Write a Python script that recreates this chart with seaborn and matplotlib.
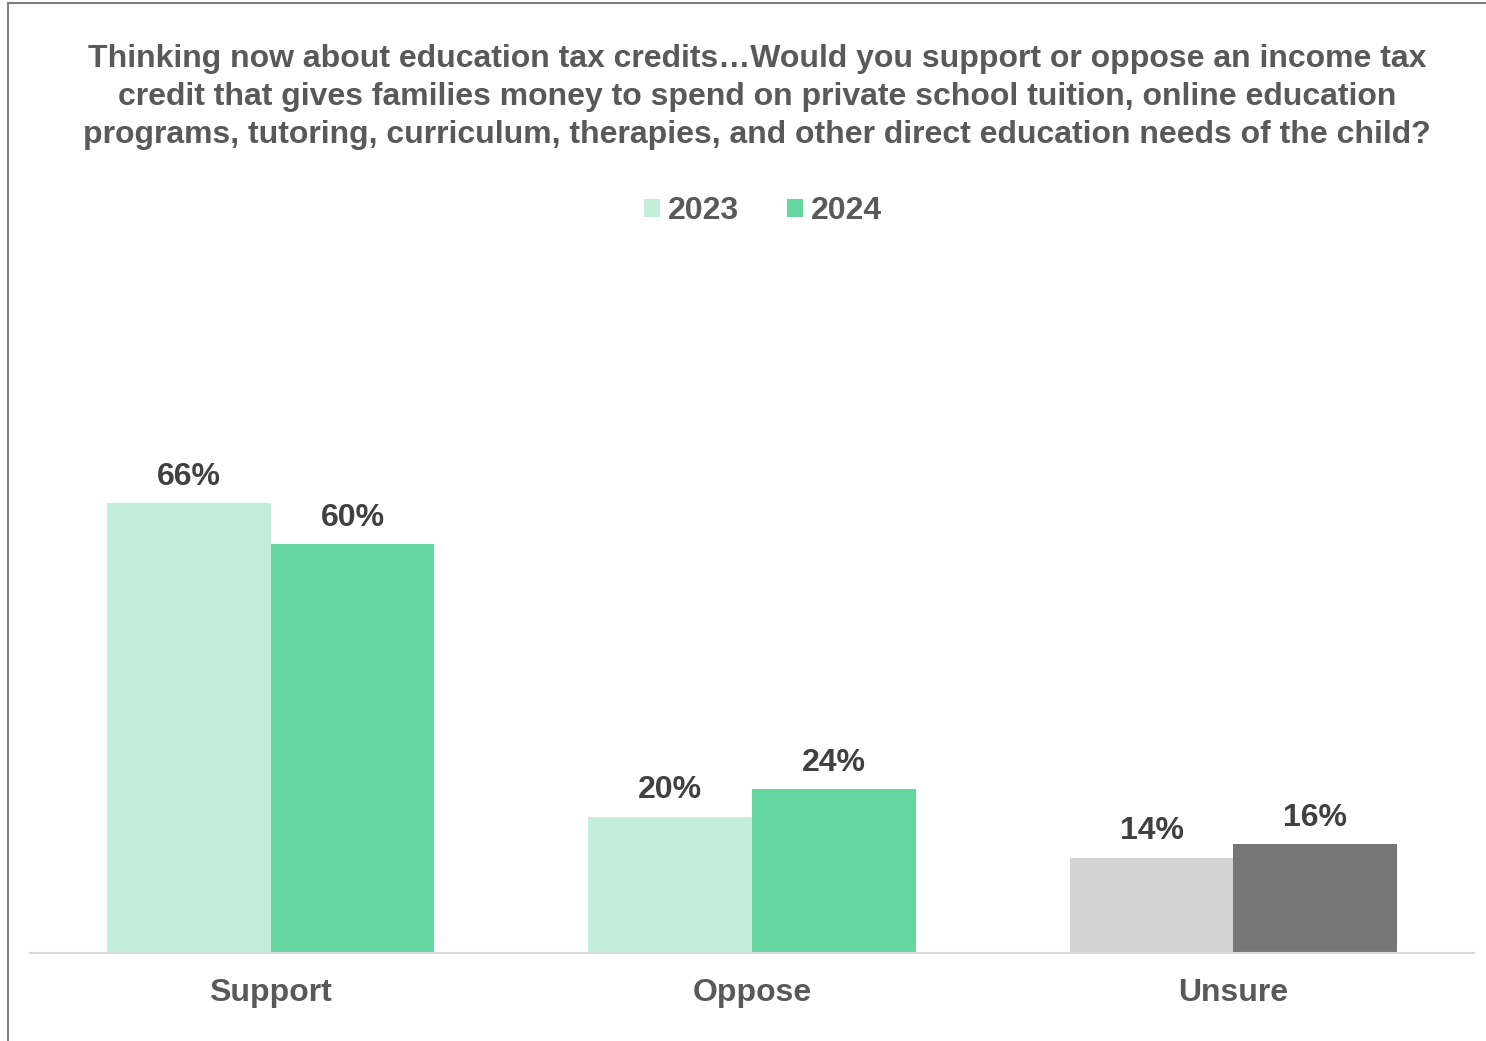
import matplotlib.pyplot as plt
import seaborn as sns
import pandas as pd
from matplotlib.lines import Line2D
from matplotlib.patches import Patch

# data
responses = ["Support", "Oppose", "Unsure"]
years = ["2023", "2024"]
pct_2023 = [66, 20, 14]
pct_2024 = [60, 24, 16]

title = ("Thinking now about education tax credits\u2026Would you support or oppose an income tax\n"
         "credit that gives families money to spend on private school tuition, online education\n"
         "programs, tutoring, curriculum, therapies, and other direct education needs of the child?")

green_colors = {"2023": "#C3EFDA", "2024": "#66D6A0"}
unsure_colors = {"2023": "#D3D3D3", "2024": "#767676"}

df = pd.DataFrame({
    "response": responses * 2,
    "year": ["2023"] * 3 + ["2024"] * 3,
    "pct": pct_2023 + pct_2024,
})

sns.set_style("white")
plt.rcParams["font.family"] = ["Liberation Sans", "DejaVu Sans"]
plt.rcParams["font.weight"] = "bold"

W, H = 1486, 1041
fs = 23
fig = plt.figure(figsize=(W / 100, H / 100), dpi=100)
ax = fig.add_axes([30 / W, 1 - 953 / H, (1474 - 30) / W, (953 - 271) / H])

sns.barplot(data=df, x="response", y="pct", hue="year", palette=green_colors,
            width=0.68, saturation=1, ax=ax, legend=False)

# unsure bars are grey
for cont, yr in zip(ax.containers, years):
    cont[2].set_facecolor(unsure_colors[yr])
    for p in cont:
        p.set_linewidth(0)
    ax.bar_label(cont, labels=[f"{int(v)}%" for v in cont.datavalues],
                 padding=8, fontsize=fs, fontweight="bold", color="#404040")

ax.set_xlim(-0.5, 2.5)
ax.set_ylim(0, 100)
ax.set_xlabel("")
ax.set_ylabel("")
ax.set_yticks([])
for s in ["left", "right", "top"]:
    ax.spines[s].set_visible(False)
ax.spines["bottom"].set_color("#D9D9D9")
ax.spines["bottom"].set_linewidth(1.5)
ax.tick_params(axis="x", length=0, pad=18, labelsize=fs, labelcolor="#595959")
for t in ax.get_xticklabels():
    t.set_fontweight("bold")

fig.text(757 / W, 1 - 97 / H, title, ha="center", va="center", multialignment="center",
         fontsize=fs, fontweight="bold", color="#595959", linespacing=1.33)

handles = [Patch(facecolor=green_colors[y], edgecolor="none", label=y) for y in years]
fig.legend(handles=handles, loc="center", bbox_to_anchor=(763 / W, 1 - 211 / H), ncol=2,
           frameon=False, handlelength=0.5, handleheight=0.5, handletextpad=0.25,
           columnspacing=1.5, prop={"size": fs, "weight": "bold"}, labelcolor="#595959")

# outer frame lines (left and top)
fig.add_artist(Line2D([8 / W, 8 / W], [0, 1 - 3 / H], transform=fig.transFigure,
                      color="#7F7F7F", lw=1.5))
fig.add_artist(Line2D([8 / W, 1], [1 - 3 / H, 1 - 3 / H], transform=fig.transFigure,
                      color="#7F7F7F", lw=1.5))

fig.savefig("out.png", dpi=100)
